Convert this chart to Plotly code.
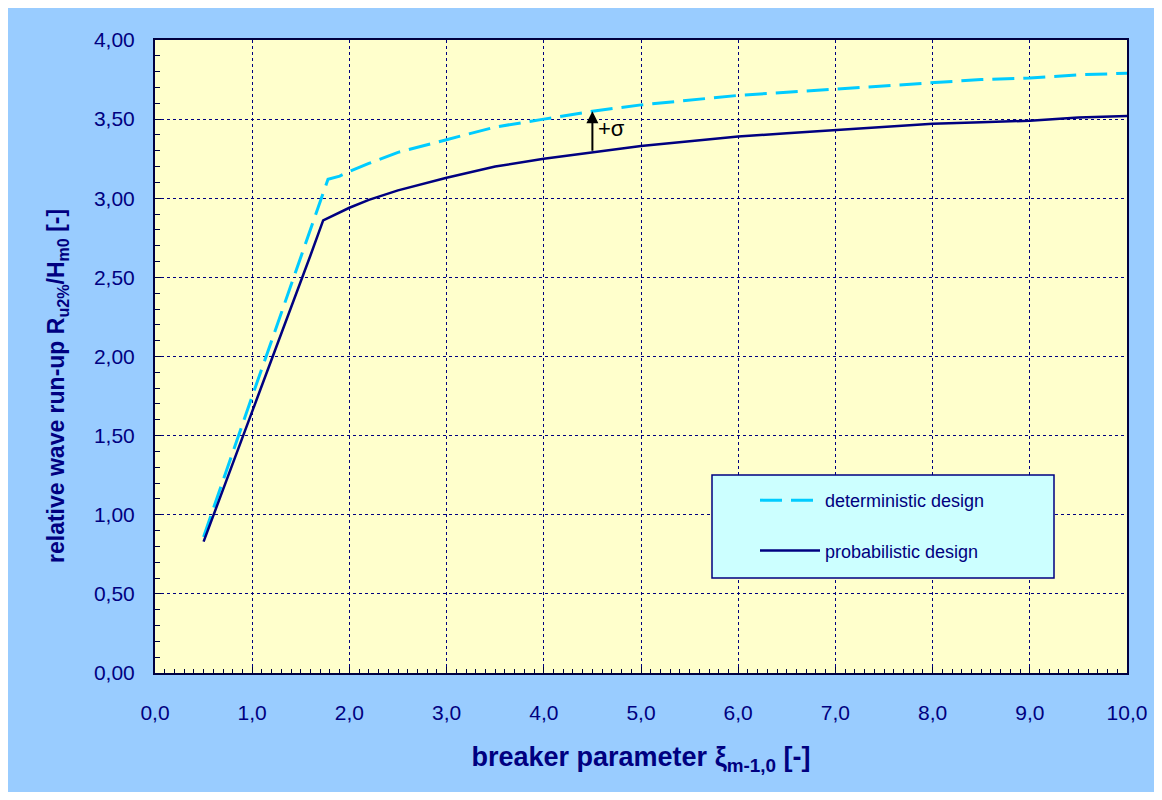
import plotly.graph_objects as go

xi_prob = [0.5, 0.8, 1.0, 1.2, 1.4, 1.6, 1.73, 1.8, 2.0, 2.2, 2.5, 3.0, 3.5, 4.0, 4.5, 5.0, 5.5, 6.0, 6.5, 7.0, 7.5, 8.0, 8.5, 9.0, 9.5, 10.0]
r_prob = [0.83, 1.32, 1.65, 1.98, 2.31, 2.64, 2.86, 2.88, 2.94, 2.99, 3.05, 3.13, 3.20, 3.25, 3.29, 3.33, 3.36, 3.39, 3.41, 3.43, 3.45, 3.47, 3.48, 3.49, 3.51, 3.52]

xi_det = [0.5, 0.8, 1.0, 1.2, 1.4, 1.6, 1.78, 1.9, 2.0, 2.2, 2.5, 3.0, 3.5, 4.0, 4.5, 5.0, 5.5, 6.0, 6.5, 7.0, 7.5, 8.0, 8.5, 9.0, 9.5, 10.0]
r_det = [0.86, 1.40, 1.75, 2.10, 2.45, 2.80, 3.12, 3.14, 3.17, 3.22, 3.29, 3.37, 3.45, 3.50, 3.55, 3.59, 3.62, 3.65, 3.67, 3.69, 3.71, 3.73, 3.75, 3.76, 3.78, 3.79]

sigma_x = 4.5
sigma_from = 3.29
sigma_to = 3.55

navy = "#000080"
W, H = 1146, 784
L, R, T, B = 147, 27, 32, 119
PW, PH = W - L - R, H - T - B

def px(xp):  # page x -> paper
    return (xp - 8 - L) / PW

def py(yp):  # page y -> paper
    return (H - B - (yp - 8)) / PH

fig = go.Figure()
fig.add_trace(go.Scatter(x=xi_det, y=r_det, mode="lines", name="deterministic design",
                         legendgroup="det",
                         line=dict(color="#00CCFF", width=3, dash="22px,9px")))
fig.add_trace(go.Scatter(x=xi_prob, y=r_prob, mode="lines", name="probabilistic design",
                         legendgroup="prob",
                         line=dict(color=navy, width=2.5)))

fig.add_annotation(x=sigma_x, y=sigma_to, ax=sigma_x, ay=sigma_from, xref="x", yref="y",
                   axref="x", ayref="y", showarrow=True, arrowhead=2, arrowsize=1.2,
                   arrowwidth=2, arrowcolor="black", text="")
fig.add_annotation(x=sigma_x, y=3.44, xref="x", yref="y",
                   text="+σ", showarrow=False, xanchor="left", xshift=4,
                   font=dict(family="Arial, Liberation Sans", size=22, color="black"))

# y-axis title as rotated annotation (positioned like the reference)
fig.add_annotation(x=px(57), y=py(386), xref="paper", yref="paper",
                   text="<b>relative wave run-up R<sub>u2%</sub>/H<sub>m0</sub> [-]</b>",
                   textangle=-90, showarrow=False, xanchor="center", yanchor="middle",
                   font=dict(family="Arial, Liberation Sans", size=23, color=navy))

# legend box
fig.add_shape(type="rect", xref="paper", yref="paper", x0=px(712), x1=px(1054),
              y0=py(578), y1=py(475),
              fillcolor="#CCFFFF", line=dict(color=navy, width=1.5), layer="above")

axis_common = dict(showline=True, linecolor="#000040", linewidth=2, mirror=True,
                   gridcolor=navy, griddash="3px,3px", gridwidth=1,
                   ticks="inside", tickcolor="#000040", ticklen=6,
                   zeroline=False)

fig.update_layout(
    width=W, height=H,
    paper_bgcolor="#99CCFF", plot_bgcolor="#FFFFCC",
    margin=dict(l=L, r=R, t=T, b=B, autoexpand=False),
    separators=",.",
    showlegend=True,
    legend=dict(x=px(755), y=py(482), xanchor="left", yanchor="top",
                bgcolor="rgba(0,0,0,0)", borderwidth=0, tracegroupgap=24,
                itemwidth=60,
                font=dict(family="Arial, Liberation Sans", size=18, color=navy)),
    xaxis=dict(range=[0, 10], dtick=1, tickformat=".1f",
               ticklabelstandoff=20,
               tickfont=dict(family="Liberation Sans Narrow, Arial Narrow, Arial", size=21, color=navy),
               minor=dict(dtick=0.1, ticks="inside", ticklen=4, tickcolor="#000040", showgrid=False),
               title=dict(text="<b>breaker parameter ξ<sub>m-1,0</sub> [-]</b>", standoff=24,
                          font=dict(family="Liberation Sans Narrow, Arial Narrow, Arial", size=27, color=navy)),
               **axis_common),
    yaxis=dict(range=[0, 4], dtick=0.5, tickformat=".2f",
               ticklabelstandoff=14,
               tickfont=dict(family="Arial, Liberation Sans", size=21, color=navy),
               minor=dict(dtick=0.1, ticks="inside", ticklen=5, tickcolor="#000040", showgrid=False),
               **axis_common),
)

fig.write_html("out.html")
